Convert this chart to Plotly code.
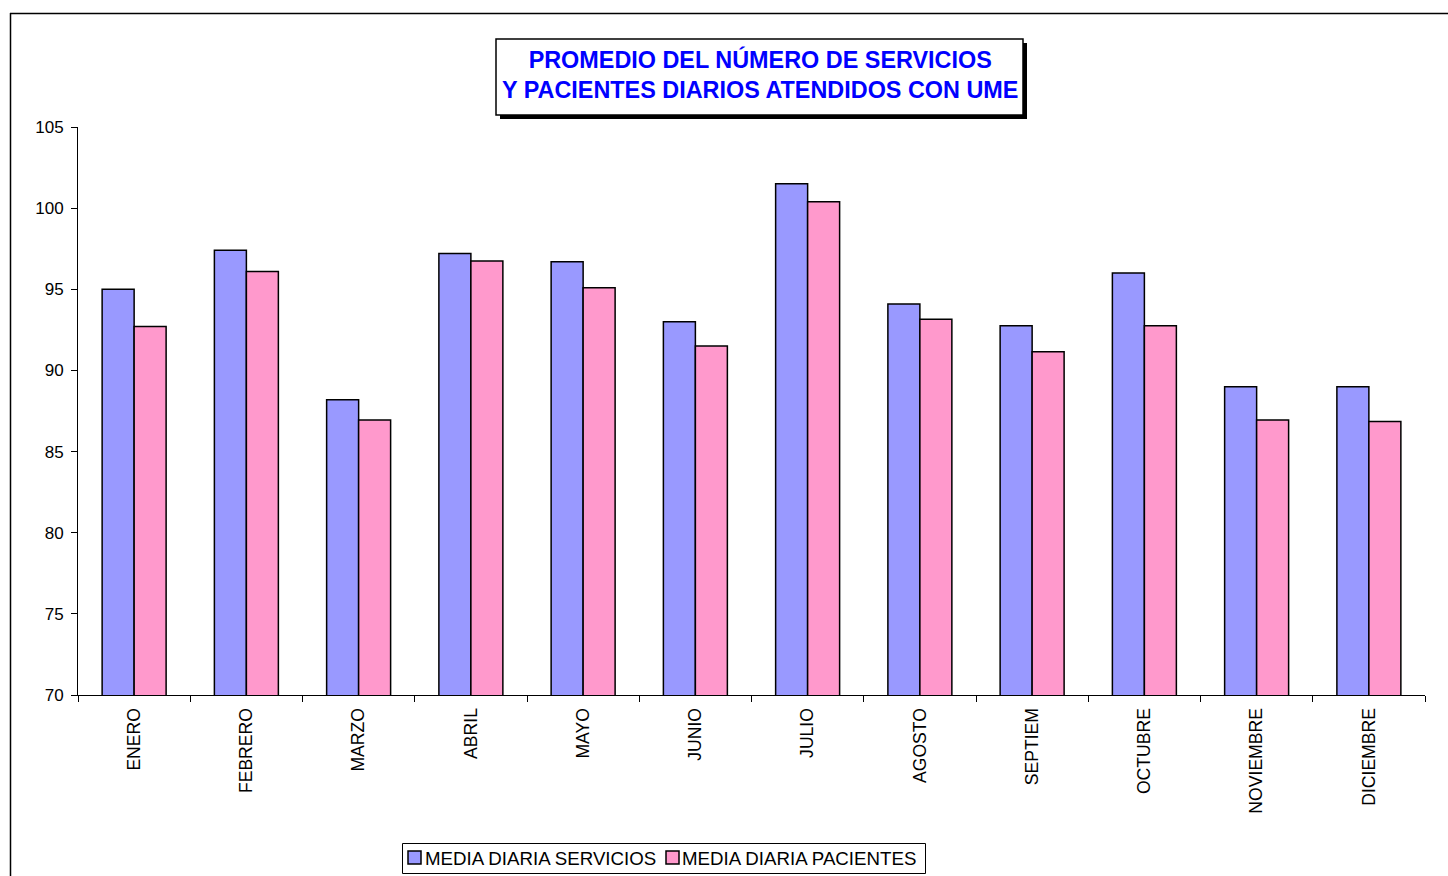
import plotly.graph_objects as go

months = ["ENERO", "FEBRERO", "MARZO", "ABRIL", "MAYO", "JUNIO", "JULIO",
          "AGOSTO", "SEPTIEM", "OCTUBRE", "NOVIEMBRE", "DICIEMBRE"]
servicios = [95.0, 97.4, 88.2, 97.2, 96.7, 93.0, 101.5, 94.1, 92.75, 96.0, 89.0, 89.0]
pacientes = [92.7, 96.1, 86.95, 96.75, 95.1, 91.5, 100.4, 93.15, 91.15, 92.75, 86.95, 86.85]
title_lines = ["PROMEDIO DEL NÚMERO DE SERVICIOS", "Y PACIENTES DIARIOS ATENDIDOS CON UME"]
series_names = ["MEDIA DIARIA SERVICIOS", "MEDIA DIARIA PACIENTES"]
colors = ["#9999FF", "#FF99CC"]

W, H = 1448, 876
# plot area in page pixels: x 78..1425, y 127..695
L, T = 78, 127
pw, ph = 1425 - 78, 695 - 127
R = W - L - pw
B = H - T - ph

def px(x):
    return (x - L) / pw

def py(y):
    return (T + ph - y) / ph

fig = go.Figure()
for name, vals, col in zip(series_names, [servicios, pacientes], colors):
    fig.add_trace(go.Bar(x=months, y=vals, name=name, showlegend=False,
                         marker=dict(color=col, line=dict(color="black", width=1.5))))

shapes = [
    # outer chart border
    dict(type="line", xref="paper", yref="paper", x0=px(10), x1=px(1470), y0=py(13.5), y1=py(13.5),
         line=dict(color="black", width=1.5)),
    dict(type="line", xref="paper", yref="paper", x0=px(10.5), x1=px(10.5), y0=py(13), y1=py(900),
         line=dict(color="black", width=1.5)),
    # title shadow
    dict(type="rect", xref="paper", yref="paper", x0=px(500), x1=px(1027), y0=py(43), y1=py(119),
         fillcolor="black", line=dict(width=0), layer="above"),
    # title box
    dict(type="rect", xref="paper", yref="paper", x0=px(496), x1=px(1023), y0=py(39), y1=py(115),
         fillcolor="white", line=dict(color="black", width=1.5), layer="above"),
    # legend box
    dict(type="rect", xref="paper", yref="paper", x0=px(402.5), x1=px(925.5), y0=py(843.5), y1=py(873.5),
         fillcolor="white", line=dict(color="black", width=1), layer="above"),
    # legend swatches
    dict(type="rect", xref="paper", yref="paper", x0=px(408), x1=px(421), y0=py(851), y1=py(864),
         fillcolor=colors[0], line=dict(color="black", width=1.5), layer="above"),
    dict(type="rect", xref="paper", yref="paper", x0=px(666), x1=px(679), y0=py(851), y1=py(864),
         fillcolor=colors[1], line=dict(color="black", width=1.5), layer="above"),
]

annotations = [
    dict(xref="paper", yref="paper", x=px(760), y=py(75), xanchor="center", yanchor="middle",
         text="<b>" + title_lines[0] + "<br>" + title_lines[1] + "</b>", showarrow=False,
         font=dict(family="Liberation Sans, Arial", size=23.4, color="#0000FF"), align="center"),
    dict(xref="paper", yref="paper", x=px(423), y=py(858), xanchor="left", yanchor="middle",
         text=series_names[0], showarrow=False,
         font=dict(family="Liberation Sans, Arial", size=18.7, color="black")),
    dict(xref="paper", yref="paper", x=px(680), y=py(858), xanchor="left", yanchor="middle",
         text=series_names[1], showarrow=False,
         font=dict(family="Liberation Sans, Arial", size=18.7, color="black")),
]

fig.update_layout(
    width=W, height=H,
    margin=dict(l=L, r=R, t=T, b=B, autoexpand=False),
    paper_bgcolor="white", plot_bgcolor="white",
    barmode="group", bargap=0.43, bargroupgap=0,
    shapes=shapes, annotations=annotations,
    font=dict(family="Liberation Sans, Arial", size=17, color="black"),
    showlegend=False,
)
fig.update_xaxes(showline=True, linecolor="black", linewidth=1, ticks="outside", tickson="boundaries",
                 ticklen=6, tickcolor="black", tickangle=-90, showgrid=False,
                 tickfont=dict(size=17.6), ticklabelstandoff=5)
fig.update_yaxes(range=[70, 105], dtick=5, showline=True, linecolor="black", linewidth=1,
                 ticks="outside", ticklen=6, tickcolor="black", showgrid=False, zeroline=False,
                 tickfont=dict(size=17), ticklabelstandoff=4)

fig.write_html("out.html", config={"displayModeBar": False},
               post_script="document.body.style.margin='0';document.body.style.overflow='hidden';")
